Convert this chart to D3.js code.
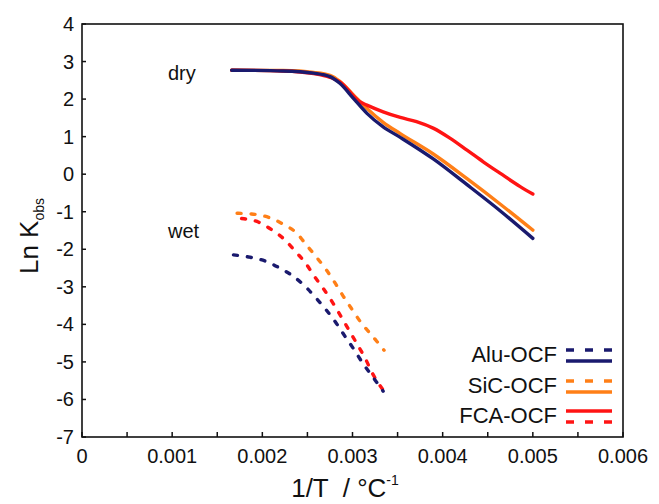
<!DOCTYPE html>
<html>
<head>
<meta charset="utf-8">
<script src="https://cdn.jsdelivr.net/npm/d3@7"></script>
<style>
body{margin:0;background:#fff;}
text{font-family:"Liberation Sans",Arial,sans-serif;fill:#111;}
</style>
</head>
<body>
<svg id="chart" width="659" height="504"></svg>
<script>
// dry curves (solid)
var dryAlu = [[0.00166,2.77],[0.00223,2.75],[0.00257,2.69],[0.00275,2.60],[0.00286,2.42],[0.00301,2.02],[0.00316,1.62],[0.00334,1.26],[0.00353,0.98],[0.0039,0.40],[0.00427,-0.28],[0.00464,-0.98],[0.005,-1.71]];
var drySiC = [[0.00166,2.77],[0.00223,2.76],[0.00257,2.71],[0.00275,2.63],[0.00286,2.47],[0.00301,2.11],[0.00316,1.75],[0.00334,1.38],[0.00353,1.08],[0.0039,0.53],[0.00427,-0.12],[0.00464,-0.80],[0.005,-1.49]];
var dryFCA = [[0.00166,2.77],[0.00223,2.75],[0.00257,2.68],[0.00275,2.58],[0.00286,2.46],[0.00308,1.93],[0.00316,1.84],[0.00334,1.66],[0.00353,1.51],[0.00371,1.40],[0.0039,1.22],[0.00408,0.96],[0.00427,0.64],[0.00445,0.33],[0.00464,0.02],[0.00486,-0.33],[0.005,-0.53]];
// wet curves (dashed)
var wetAlu = [[0.00168,-2.15],[0.00186,-2.21],[0.00205,-2.33],[0.0022,-2.51],[0.00235,-2.73],[0.00248,-3.0],[0.0026,-3.31],[0.00271,-3.62],[0.00282,-3.97],[0.00292,-4.33],[0.00302,-4.68],[0.00311,-5.02],[0.00321,-5.35],[0.00334,-5.78]];
var wetSiC = [[0.00172,-1.04],[0.00188,-1.06],[0.00207,-1.15],[0.00223,-1.33],[0.00238,-1.57],[0.00249,-1.89],[0.0026,-2.21],[0.00271,-2.55],[0.00281,-2.91],[0.0029,-3.26],[0.003,-3.62],[0.0031,-3.97],[0.00321,-4.28],[0.00335,-4.69]];
var wetFCA = [[0.00177,-1.18],[0.00196,-1.28],[0.00211,-1.49],[0.00225,-1.75],[0.00236,-2.04],[0.00248,-2.37],[0.00258,-2.73],[0.00268,-3.06],[0.00278,-3.42],[0.00287,-3.78],[0.00296,-4.15],[0.00305,-4.52],[0.00314,-4.9],[0.00322,-5.3],[0.00334,-5.75]];

var xTicks = [0,0.001,0.002,0.003,0.004,0.005,0.006];
var xMinor = [0.0005,0.0015,0.0025,0.0035,0.0045,0.0055];
var yTicks = [4,3,2,1,0,-1,-2,-3,-4,-5,-6,-7];
var legendNames = ["Alu-OCF","SiC-OCF","FCA-OCF"];
var colors = {"Alu-OCF":"#1a1a6e","SiC-OCF":"#ff7f17","FCA-OCF":"#ff1414"};

var svg = d3.select("#chart");
var pLeft = 82, pRight = 623, pTop = 24, pBottom = 437;

var x = d3.scaleLinear().domain([0,0.006]).range([pLeft,pRight]);
var y = d3.scaleLinear().domain([-7,4]).range([pBottom,pTop]);

var line = d3.line()
	.x(function(d){ return x(d[0]); })
	.y(function(d){ return y(d[1]); })
	.curve(d3.curveMonotoneX);

//frame
svg.append("rect")
	.attr("x",pLeft).attr("y",pTop)
	.attr("width",pRight-pLeft).attr("height",pBottom-pTop)
	.attr("fill","none").attr("stroke","#111").attr("stroke-width",1.6);

//x axis ticks (inside)
svg.selectAll(".xt")
	.data(xTicks.concat(xMinor))
	.enter().append("line")
	.attr("x1",function(d){ return x(d); })
	.attr("x2",function(d){ return x(d); })
	.attr("y1",pBottom).attr("y2",pBottom-5)
	.attr("stroke","#111").attr("stroke-width",1.5);
svg.selectAll(".xl")
	.data(xTicks)
	.enter().append("text")
	.attr("x",function(d){ return x(d); })
	.attr("y",pBottom+26)
	.attr("text-anchor","middle")
	.attr("font-size",20)
	.text(function(d){ return d===0 ? "0" : d3.format(".3f")(d); });

//y axis ticks
svg.selectAll(".yt")
	.data(yTicks)
	.enter().append("line")
	.attr("x1",pLeft).attr("x2",pLeft+4)
	.attr("y1",function(d){ return y(d); })
	.attr("y2",function(d){ return y(d); })
	.attr("stroke","#111").attr("stroke-width",1.5);
svg.selectAll(".yl")
	.data(yTicks)
	.enter().append("text")
	.attr("x",pLeft-8)
	.attr("y",function(d){ return y(d)+7; })
	.attr("text-anchor","end")
	.attr("font-size",20)
	.text(function(d){ return d; });

//axis titles
var xt = svg.append("text")
	.attr("x",345).attr("y",497)
	.attr("text-anchor","middle")
	.attr("font-size",26);
xt.append("tspan").text("1/T \u00a0/ \u00b0C");
xt.append("tspan").attr("font-size",14).attr("dy",-12).text("-1");

var yt = svg.append("text")
	.attr("transform","translate(38,236) rotate(-90)")
	.attr("text-anchor","middle")
	.attr("font-size",26);
yt.append("tspan").text("Ln K");
yt.append("tspan").attr("font-size",14).attr("dy",6).text("obs");

//curves
var dry = [["SiC-OCF",drySiC],["FCA-OCF",dryFCA],["Alu-OCF",dryAlu]];
var wet = [["SiC-OCF",wetSiC],["FCA-OCF",wetFCA],["Alu-OCF",wetAlu]];

svg.selectAll(".dry")
	.data(dry)
	.enter().append("path")
	.attr("d",function(d){ return line(d[1]); })
	.attr("fill","none")
	.attr("stroke",function(d){ return colors[d[0]]; })
	.attr("stroke-width",3.4)
	.attr("stroke-linecap","round");

svg.selectAll(".wet")
	.data(wet)
	.enter().append("path")
	.attr("d",function(d){ return line(d[1]); })
	.attr("fill","none")
	.attr("stroke",function(d){ return colors[d[0]]; })
	.attr("stroke-width",3.4)
	.attr("stroke-linecap","round")
	.attr("stroke-dasharray","4,10");

svg.append("text").attr("x",168).attr("y",80).attr("font-size",20).text("dry");
svg.append("text").attr("x",168).attr("y",238).attr("font-size",20).text("wet");

//legend
var legY = [350,381,411];
var lx0 = 566, lx1 = 612;
legendNames.forEach(function(name,i){
	var g = svg.append("g");
	g.append("text")
		.attr("x",557).attr("y",legY[i]+12)
		.attr("text-anchor","end")
		.attr("font-size",22)
		.text(name);
	var dashedFirst = i<2;
	var yd = dashedFirst ? legY[i] : legY[i]+11;
	var ys = dashedFirst ? legY[i]+11 : legY[i];
	g.append("line")
		.attr("x1",lx0).attr("x2",lx1)
		.attr("y1",yd).attr("y2",yd)
		.attr("stroke",colors[name]).attr("stroke-width",3.4)
		.attr("stroke-dasharray","8,11");
	g.append("line")
		.attr("x1",lx0).attr("x2",lx1)
		.attr("y1",ys).attr("y2",ys)
		.attr("stroke",colors[name]).attr("stroke-width",3.4);
});
</script>
</body>
</html>
